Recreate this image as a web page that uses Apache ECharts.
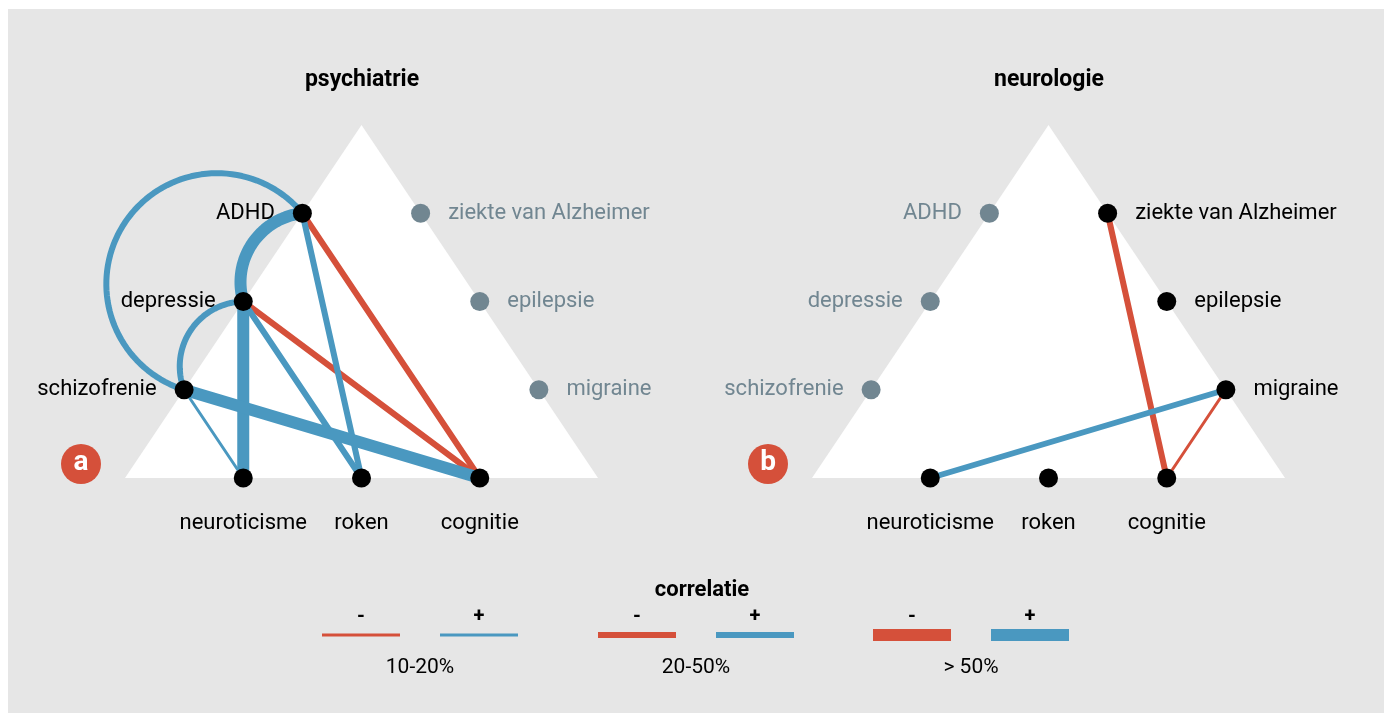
<!DOCTYPE html>
<html>
<head>
<meta charset="utf-8">
<script src="https://cdn.jsdelivr.net/npm/echarts@6/dist/echarts.min.js"></script>
<style>
  html, body { margin: 0; background: #fff; }
  #main { width: 1388px; height: 713px; }
</style>
</head>
<body>
<div id="main"></div>
<script>
// nodes on the triangular lattice (column, row) shared by both panels
const nodeNames = ['ADHD', 'depressie', 'schizofrenie', 'ziekte van Alzheimer', 'epilepsie', 'migraine', 'neuroticisme', 'roken', 'cognitie'];
const nodeCol = [3, 2, 1, 5, 6, 7, 2, 4, 6];
const nodeRow = [3, 2, 1, 3, 2, 1, 0, 0, 0];
const labelSide = ['left', 'left', 'left', 'right', 'right', 'right', 'bottom', 'bottom', 'bottom'];

const panelTitles = ['psychiatrie', 'neurologie'];
const panelBadges = ['a', 'b'];
const panelActive = [
  ['ADHD', 'depressie', 'schizofrenie', 'neuroticisme', 'roken', 'cognitie'],
  ['ziekte van Alzheimer', 'epilepsie', 'migraine', 'neuroticisme', 'roken', 'cognitie']
];

// [bron, doel, teken (+1 / -1), klasse (1: 10-20%, 2: 20-50%, 3: >50%)]
const edgesPsy = [
  ['ADHD', 'schizofrenie', 1, 2],
  ['ADHD', 'depressie', 1, 3],
  ['ADHD', 'cognitie', -1, 2],
  ['depressie', 'cognitie', -1, 2],
  ['ADHD', 'roken', 1, 2],
  ['depressie', 'schizofrenie', 1, 2],
  ['depressie', 'neuroticisme', 1, 3],
  ['depressie', 'roken', 1, 2],
  ['schizofrenie', 'neuroticisme', 1, 1],
  ['schizofrenie', 'cognitie', 1, 3]
];
const edgesNeu = [
  ['ziekte van Alzheimer', 'cognitie', -1, 2],
  ['migraine', 'cognitie', -1, 1],
  ['migraine', 'neuroticisme', 1, 2]
];
const panelEdges = [edgesPsy, edgesNeu];

const legendTitle = 'correlatie';
const strengthLabels = ['10-20%', '20-50%', '> 50%'];
const signLabels = ['-', '+'];

// styling
const RED = '#d5503a';
const BLUE = '#4a98c0';
const GREY_NODE = '#718691';
const INK = '#000';
const FONT = 'Roboto';
const strengthWidth = [3, 6, 12];
const arcSweep = { 'ADHD|schizofrenie': 213, 'depressie|schizofrenie': 110, 'ADHD|depressie': 100 };
const triangle = [[0, 0], [8, 0], [4, 4]];
const gridLeft = [125, 812];

function idx(name) { return nodeNames.indexOf(name); }

function triangleItem(params, api) {
  return {
    type: 'polygon',
    shape: { points: triangle.map(p => api.coord(p)) },
    style: { fill: '#fff' }
  };
}

function edgeItem(params, api) {
  const s = api.value(0), t = api.value(1), sign = api.value(2), cls = api.value(3);
  const p1 = api.coord([nodeCol[s], nodeRow[s]]);
  const p2 = api.coord([nodeCol[t], nodeRow[t]]);
  const sweep = arcSweep[nodeNames[s] + '|' + nodeNames[t]] || 0;
  let pts;
  if (!sweep) {
    pts = [p1, p2];
  } else {
    const dx = p2[0] - p1[0], dy = p2[1] - p1[1];
    const L = Math.hypot(dx, dy);
    const th = sweep * Math.PI / 180;
    const r = L / (2 * Math.sin(th / 2));
    const h = r * Math.cos(th / 2);
    const bx = -dy / L, by = dx / L;
    const cx = (p1[0] + p2[0]) / 2 - bx * h;
    const cy = (p1[1] + p2[1]) / 2 - by * h;
    const a1 = Math.atan2(p1[1] - cy, p1[0] - cx);
    let d = Math.atan2(by, bx) - a1;
    while (d > Math.PI) d -= 2 * Math.PI;
    while (d < -Math.PI) d += 2 * Math.PI;
    const dir = d > 0 ? 1 : -1;
    pts = [];
    for (let k = 0; k <= 80; k++) {
      const a = a1 + dir * th * k / 80;
      pts.push([cx + r * Math.cos(a), cy + r * Math.sin(a)]);
    }
  }
  return {
    type: 'polyline',
    shape: { points: pts },
    style: { stroke: sign < 0 ? RED : BLUE, lineWidth: strengthWidth[cls - 1], fill: null, lineCap: 'round', lineJoin: 'round' }
  };
}

const grids = [], xAxes = [], yAxes = [], series = [], graphics = [];

graphics.push({ type: 'rect', shape: { x: 8, y: 9, width: 1376, height: 704 }, style: { fill: '#e6e6e6' }, z: -10 });

panelTitles.forEach((title, p) => {
  grids.push({ left: gridLeft[p], top: 125, width: 473, height: 353 });
  xAxes.push({ type: 'value', gridIndex: p, min: 0, max: 8, show: false });
  yAxes.push({ type: 'value', gridIndex: p, min: 0, max: 4, show: false });

  series.push({
    type: 'custom', xAxisIndex: p, yAxisIndex: p, silent: true, z: 1,
    renderItem: triangleItem, data: [[4, 2]]
  });
  series.push({
    type: 'custom', xAxisIndex: p, yAxisIndex: p, silent: true, z: 2, clip: false,
    renderItem: edgeItem,
    data: panelEdges[p].map(e => [idx(e[0]), idx(e[1]), e[2], e[3]])
  });
  series.push({
    type: 'scatter', xAxisIndex: p, yAxisIndex: p, silent: true, z: 3,
    symbolSize: 19,
    data: nodeNames.map((n, i) => {
      const on = panelActive[p].includes(n);
      return {
        name: n, value: [nodeCol[i], nodeRow[i]],
        itemStyle: { color: on ? '#000' : GREY_NODE, opacity: 1 },
        label: {
          show: true, formatter: '{b}', position: labelSide[i],
          distance: labelSide[i] === 'bottom' ? 25 : 18,
          color: on ? INK : GREY_NODE, fontSize: 22, fontFamily: FONT
        }
      };
    })
  });

  const cx = gridLeft[p] + 237;
  graphics.push({
    type: 'text', x: cx, y: 80,
    style: { text: title, align: 'center', verticalAlign: 'middle', fontSize: 23, fontWeight: 'bold', fontFamily: FONT, fill: INK }
  });
  const bx = gridLeft[p] - 44;
  graphics.push({ type: 'circle', shape: { cx: bx, cy: 464, r: 20 }, style: { fill: RED } });
  graphics.push({
    type: 'text', x: bx, y: 463,
    style: { text: panelBadges[p], align: 'center', verticalAlign: 'middle', fontSize: 28, fontWeight: 'bold', fontFamily: FONT, fill: '#fff' }
  });
});

// legend
graphics.push({
  type: 'text', x: 702, y: 590,
  style: { text: legendTitle, align: 'center', verticalAlign: 'middle', fontSize: 22, fontWeight: 'bold', fontFamily: FONT, fill: INK }
});
const legendStart = [322, 598, 873];
strengthLabels.forEach((lab, c) => {
  signLabels.forEach((sg, j) => {
    const x0 = legendStart[c] + j * 118;
    const w = strengthWidth[c];
    graphics.push({ type: 'rect', shape: { x: x0, y: 635 - w / 2, width: 78, height: w }, style: { fill: sg === '-' ? RED : BLUE } });
    graphics.push({
      type: 'text', x: x0 + 39, y: 617,
      style: { text: sg, align: 'center', verticalAlign: 'middle', fontSize: 20, fontWeight: 'bold', fontFamily: FONT, fill: INK }
    });
  });
  graphics.push({
    type: 'text', x: legendStart[c] + 98, y: 668,
    style: { text: lab, align: 'center', verticalAlign: 'middle', fontSize: 21, fontFamily: FONT, fill: INK }
  });
});

const chart = echarts.init(document.getElementById('main'));
chart.setOption({
  animation: false,
  backgroundColor: '#fff',
  grid: grids,
  xAxis: xAxes,
  yAxis: yAxes,
  graphic: graphics,
  series: series
});
</script>
</body>
</html>
